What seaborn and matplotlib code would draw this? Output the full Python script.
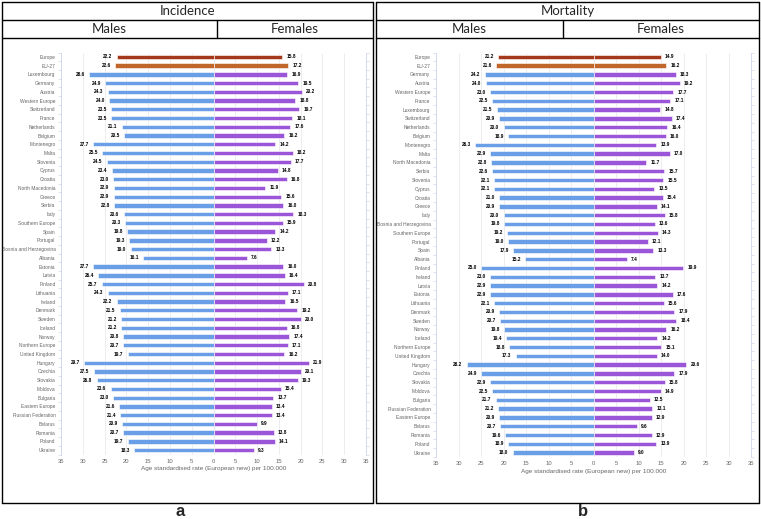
import pandas as pd
import matplotlib.pyplot as plt
import seaborn as sns
from matplotlib.lines import Line2D

# Incidence data (panel a)
inc_countries = ['Europe', 'EU-27', 'Luxembourg', 'Germany', 'Austria', 'Western Europe', 'Switzerland',
                 'France', 'Netherlands', 'Belgium', 'Montenegro', 'Malta', 'Slovenia', 'Cyprus', 'Croatia',
                 'North Macedonia', 'Greece', 'Serbia', 'Italy', 'Southern Europe', 'Spain', 'Portugal',
                 'Bosnia and Herzegovina', 'Albania', 'Estonia', 'Latvia', 'Finland', 'Lithuania', 'Ireland',
                 'Denmark', 'Sweden', 'Iceland', 'Norway', 'Northern Europe', 'United Kingdom', 'Hungary',
                 'Czechia', 'Slovakia', 'Moldova', 'Bulgaria', 'Eastern Europe', 'Russian Federation',
                 'Belarus', 'Romania', 'Poland', 'Ukraine']
inc_males = [22.2, 22.6, 28.6, 24.9, 24.3, 24.0, 23.5, 23.5, 21.1, 20.5, 27.7, 25.5, 24.5, 23.4, 23.0,
             22.9, 22.9, 22.8, 20.6, 20.3, 19.8, 19.3, 19.0, 16.1, 27.7, 26.4, 25.7, 24.3, 22.2, 21.5,
             21.2, 21.2, 20.8, 20.7, 19.7, 29.7, 27.5, 26.8, 23.6, 23.0, 21.6, 21.4, 20.9, 20.7, 19.7, 18.3]
inc_females = [15.8, 17.2, 16.9, 19.5, 20.2, 18.8, 19.7, 18.1, 17.6, 16.2, 14.2, 18.2, 17.7, 14.8, 16.8,
               11.9, 15.6, 16.0, 18.3, 15.9, 14.2, 12.2, 13.3, 7.6, 16.0, 16.4, 20.8, 17.1, 16.5, 19.2,
               20.0, 16.8, 17.4, 17.1, 16.2, 21.9, 20.1, 19.3, 15.4, 13.7, 13.4, 13.4, 9.9, 13.8, 14.1, 9.3]

# Mortality data (panel b)
mort_countries = ['Europe', 'EU-27', 'Germany', 'Austria', 'Western Europe', 'France', 'Luxembourg',
                  'Switzerland', 'Netherlands', 'Belgium', 'Montenegro', 'Malta', 'North Macedonia', 'Serbia',
                  'Slovenia', 'Cyprus', 'Croatia', 'Greece', 'Italy', 'Bosnia and Herzegovina',
                  'Southern Europe', 'Portugal', 'Spain', 'Albania', 'Finland', 'Ireland', 'Latvia', 'Estonia',
                  'Lithuania', 'Denmark', 'Sweden', 'Norway', 'Iceland', 'Northern Europe', 'United Kingdom',
                  'Hungary', 'Czechia', 'Slovakia', 'Moldova', 'Bulgaria', 'Russian Federation',
                  'Eastern Europe', 'Belarus', 'Romania', 'Poland', 'Ukraine']
mort_males = [21.2, 21.6, 24.2, 24.0, 23.0, 22.5, 21.5, 20.9, 20.0, 18.9, 26.3, 22.9, 22.8, 22.6, 22.1,
              22.1, 21.0, 20.9, 20.0, 19.8, 19.2, 19.0, 17.9, 15.2, 25.0, 23.0, 22.9, 22.9, 22.1, 20.9,
              20.7, 19.8, 19.4, 18.8, 17.3, 28.2, 24.9, 22.9, 22.5, 21.7, 21.2, 20.9, 20.7, 19.6, 18.9, 18.0]
mort_females = [14.9, 16.2, 18.3, 19.2, 17.7, 17.1, 14.8, 17.4, 16.4, 16.0, 13.9, 17.0, 11.7, 15.7, 15.5,
                13.5, 15.4, 14.1, 15.8, 13.6, 14.3, 12.1, 13.3, 7.4, 19.9, 13.7, 14.2, 17.6, 15.6, 17.9,
                18.4, 16.2, 14.2, 15.1, 14.0, 20.6, 17.9, 15.8, 14.9, 12.5, 13.1, 12.9, 9.6, 12.9, 13.9, 9.0]

xlabel = 'Age standardised rate (European new) per 100.000'
ticks = [-35, -30, -25, -20, -15, -10, -5, 0, 5, 10, 15, 20, 25, 30, 35]

MALE = '#6a9fe8'
FEMALE = '#9b55d9'
SPECIAL = {'Europe': '#a3381b', 'EU-27': '#c2672c'}

sns.set_theme(style='white')
plt.rcParams['font.family'] = ['Liberation Sans', 'DejaVu Sans']

W, H = 761, 519
fig = plt.figure(figsize=(W / 100, H / 100), dpi=100)


def fx(x):
    return x / W


def fy(y):
    return 1 - y / H


def line(x0, y0, x1, y1, lw=1.0):
    fig.add_artist(Line2D([fx(x0), fx(x1)], [fy(y0), fy(y1)], color='black', lw=lw,
                          transform=fig.transFigure))


def frame(x0, x1, xdiv, title, label, label_x):
    # outer box with two header rows
    line(x0, 2, x1, 2)
    line(x0, 503, x1, 503)
    line(x0, 2, x0, 503)
    line(x1, 2, x1, 503)
    line(x0, 20, x1, 20)
    line(x0, 38, x1, 38)
    line(xdiv, 20, xdiv, 38)
    hf = ['Lato', 'DejaVu Sans']
    fig.text(fx((x0 + x1) / 2), fy(11), title, ha='center', va='center', fontsize=9.5, family=hf)
    fig.text(fx((x0 + xdiv) / 2), fy(29), 'Males', ha='center', va='center', fontsize=9.5, family=hf)
    fig.text(fx((xdiv + x1) / 2), fy(29), 'Females', ha='center', va='center', fontsize=9.5, family=hf)
    fig.text(fx(label_x), fy(511), label, ha='center', va='center', fontsize=12, fontweight='bold')


def panel(rect, countries, males, females):
    ax = fig.add_axes(rect)
    df = pd.DataFrame({'country': countries,
                       'male': [-v for v in males],
                       'female': females})
    mpal = {c: SPECIAL.get(c, MALE) for c in countries}
    fpal = {c: SPECIAL.get(c, FEMALE) for c in countries}
    sns.barplot(data=df, x='male', y='country', hue='country', palette=mpal, order=countries,
                legend=False, width=0.5, edgecolor='white', linewidth=0.4, saturation=1, ax=ax)
    sns.barplot(data=df, x='female', y='country', hue='country', palette=fpal, order=countries,
                legend=False, width=0.5, edgecolor='white', linewidth=0.4, saturation=1, ax=ax)
    for cont in ax.containers:
        ax.bar_label(cont, fmt=lambda v: f'{abs(v):.1f}', padding=3, fontsize=3.4,
                     fontweight='bold', color='black')
    ax.set_xlim(-35, 35)
    ax.set_ylim(len(countries) - 0.5, -0.5)
    ax.set_xticks(ticks)
    ax.set_xticklabels([str(abs(t)) for t in ticks])
    ax.set_yticks([i + 0.5 for i in range(-1, len(countries))], minor=True)
    ax.tick_params(axis='x', length=0, labelsize=4.2, labelcolor='#666666', pad=3)
    ax.tick_params(axis='y', which='major', length=0, labelsize=3.5, labelcolor='#666666', pad=4)
    ax.tick_params(axis='y', which='minor', length=2, width=0.5, color='#ccd6eb', left=True,
                   right=True)
    ax.set_xlabel(xlabel, fontsize=4.6, color='#666666', labelpad=2)
    ax.set_ylabel('')
    ax.grid(axis='x', color='#e6e6e6', lw=0.5)
    ax.set_axisbelow(True)
    for s in ['top', 'bottom']:
        ax.spines[s].set_visible(False)
    for s in ['left', 'right']:
        ax.spines[s].set_color('#ccd6eb')
        ax.spines[s].set_linewidth(0.6)
    ax.set_facecolor('none')
    return ax


frame(2, 373, 217, 'Incidence', 'a', 180)
frame(376, 759, 563, 'Mortality', 'b', 583)

panel([fx(61), fy(454.5), fx(366) - fx(61), (454.5 - 52.5) / H], inc_countries, inc_males, inc_females)
panel([fx(436), fy(457), fx(751) - fx(436), (457 - 52.5) / H], mort_countries, mort_males, mort_females)

fig.savefig('out.png', dpi=100)
